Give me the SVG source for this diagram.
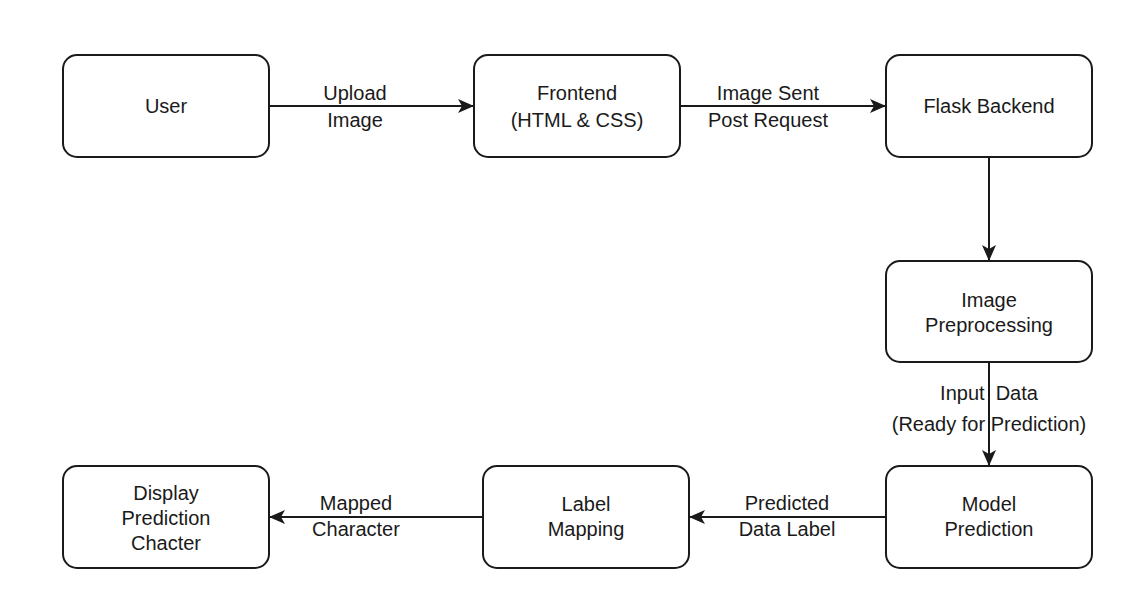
<svg xmlns="http://www.w3.org/2000/svg" width="1147" height="598" viewBox="0 0 1147 598">
  <style>
    .box { fill: #ffffff; stroke: #1a1a1a; stroke-width: 2; }
    .t { font-family: "Liberation Sans", Arial, sans-serif; font-size: 20px; fill: #1a1a1a; text-anchor: middle; }
    .edge { fill: none; stroke: #1a1a1a; stroke-width: 2; }
  </style>
  <defs>
    <marker id="arr" viewBox="0 0 16 14" refX="15" refY="7" markerWidth="16" markerHeight="14" markerUnits="userSpaceOnUse" orient="auto">
      <path d="M0,0 L16,7 L0,14 L4,7 Z" fill="#1a1a1a"/>
    </marker>
  </defs>
  <rect width="1147" height="598" fill="#ffffff"/>

  <g id="connectors">
    <g id="e1">
      <path class="edge" d="M269,106 L473,106" marker-end="url(#arr)"/>
      <text class="t" x="355" y="100">Upload</text>
      <text class="t" x="355" y="127">Image</text>
    </g>
    <g id="e2">
      <path class="edge" d="M680,106 L885,106" marker-end="url(#arr)"/>
      <text class="t" x="768" y="100">Image Sent</text>
      <text class="t" x="768" y="127">Post Request</text>
    </g>
    <g id="e3">
      <path class="edge" d="M989,157 L989,260" marker-end="url(#arr)"/>
    </g>
    <g id="e4">
      <text class="t" x="989" y="400" xml:space="preserve">Input  Data</text>
      <text class="t" x="989" y="431">(Ready for Prediction)</text>
      <path class="edge" d="M989,362 L989,465" marker-end="url(#arr)"/>
    </g>
    <g id="e5">
      <path class="edge" d="M886,517 L690,517" marker-end="url(#arr)"/>
      <text class="t" x="787" y="510">Predicted</text>
      <text class="t" x="787" y="536">Data Label</text>
    </g>
    <g id="e6">
      <path class="edge" d="M483,517 L270,517" marker-end="url(#arr)"/>
      <text class="t" x="356" y="510">Mapped</text>
      <text class="t" x="356" y="536">Character</text>
    </g>
  </g>

  <g id="user">
    <rect class="box" x="63" y="55" width="206" height="102" rx="14"/>
    <text class="t" x="166" y="113">User</text>
  </g>
  <g id="frontend">
    <rect class="box" x="474" y="55" width="206" height="102" rx="14"/>
    <text class="t" x="577" y="100">Frontend</text>
    <text class="t" x="577" y="127">(HTML &amp; CSS)</text>
  </g>
  <g id="flask">
    <rect class="box" x="886" y="55" width="206" height="102" rx="14"/>
    <text class="t" x="989" y="113">Flask Backend</text>
  </g>
  <g id="preprocessing">
    <rect class="box" x="886" y="261" width="206" height="101" rx="14"/>
    <text class="t" x="989" y="307">Image</text>
    <text class="t" x="989" y="332">Preprocessing</text>
  </g>
  <g id="model">
    <rect class="box" x="886" y="466" width="206" height="102" rx="14"/>
    <text class="t" x="989" y="511">Model</text>
    <text class="t" x="989" y="536">Prediction</text>
  </g>
  <g id="labelmapping">
    <rect class="box" x="483" y="466" width="206" height="102" rx="14"/>
    <text class="t" x="586" y="511">Label</text>
    <text class="t" x="586" y="536">Mapping</text>
  </g>
  <g id="display">
    <rect class="box" x="63" y="466" width="206" height="102" rx="14"/>
    <text class="t" x="166" y="500">Display</text>
    <text class="t" x="166" y="525">Prediction</text>
    <text class="t" x="166" y="550">Chacter</text>
  </g>
</svg>
